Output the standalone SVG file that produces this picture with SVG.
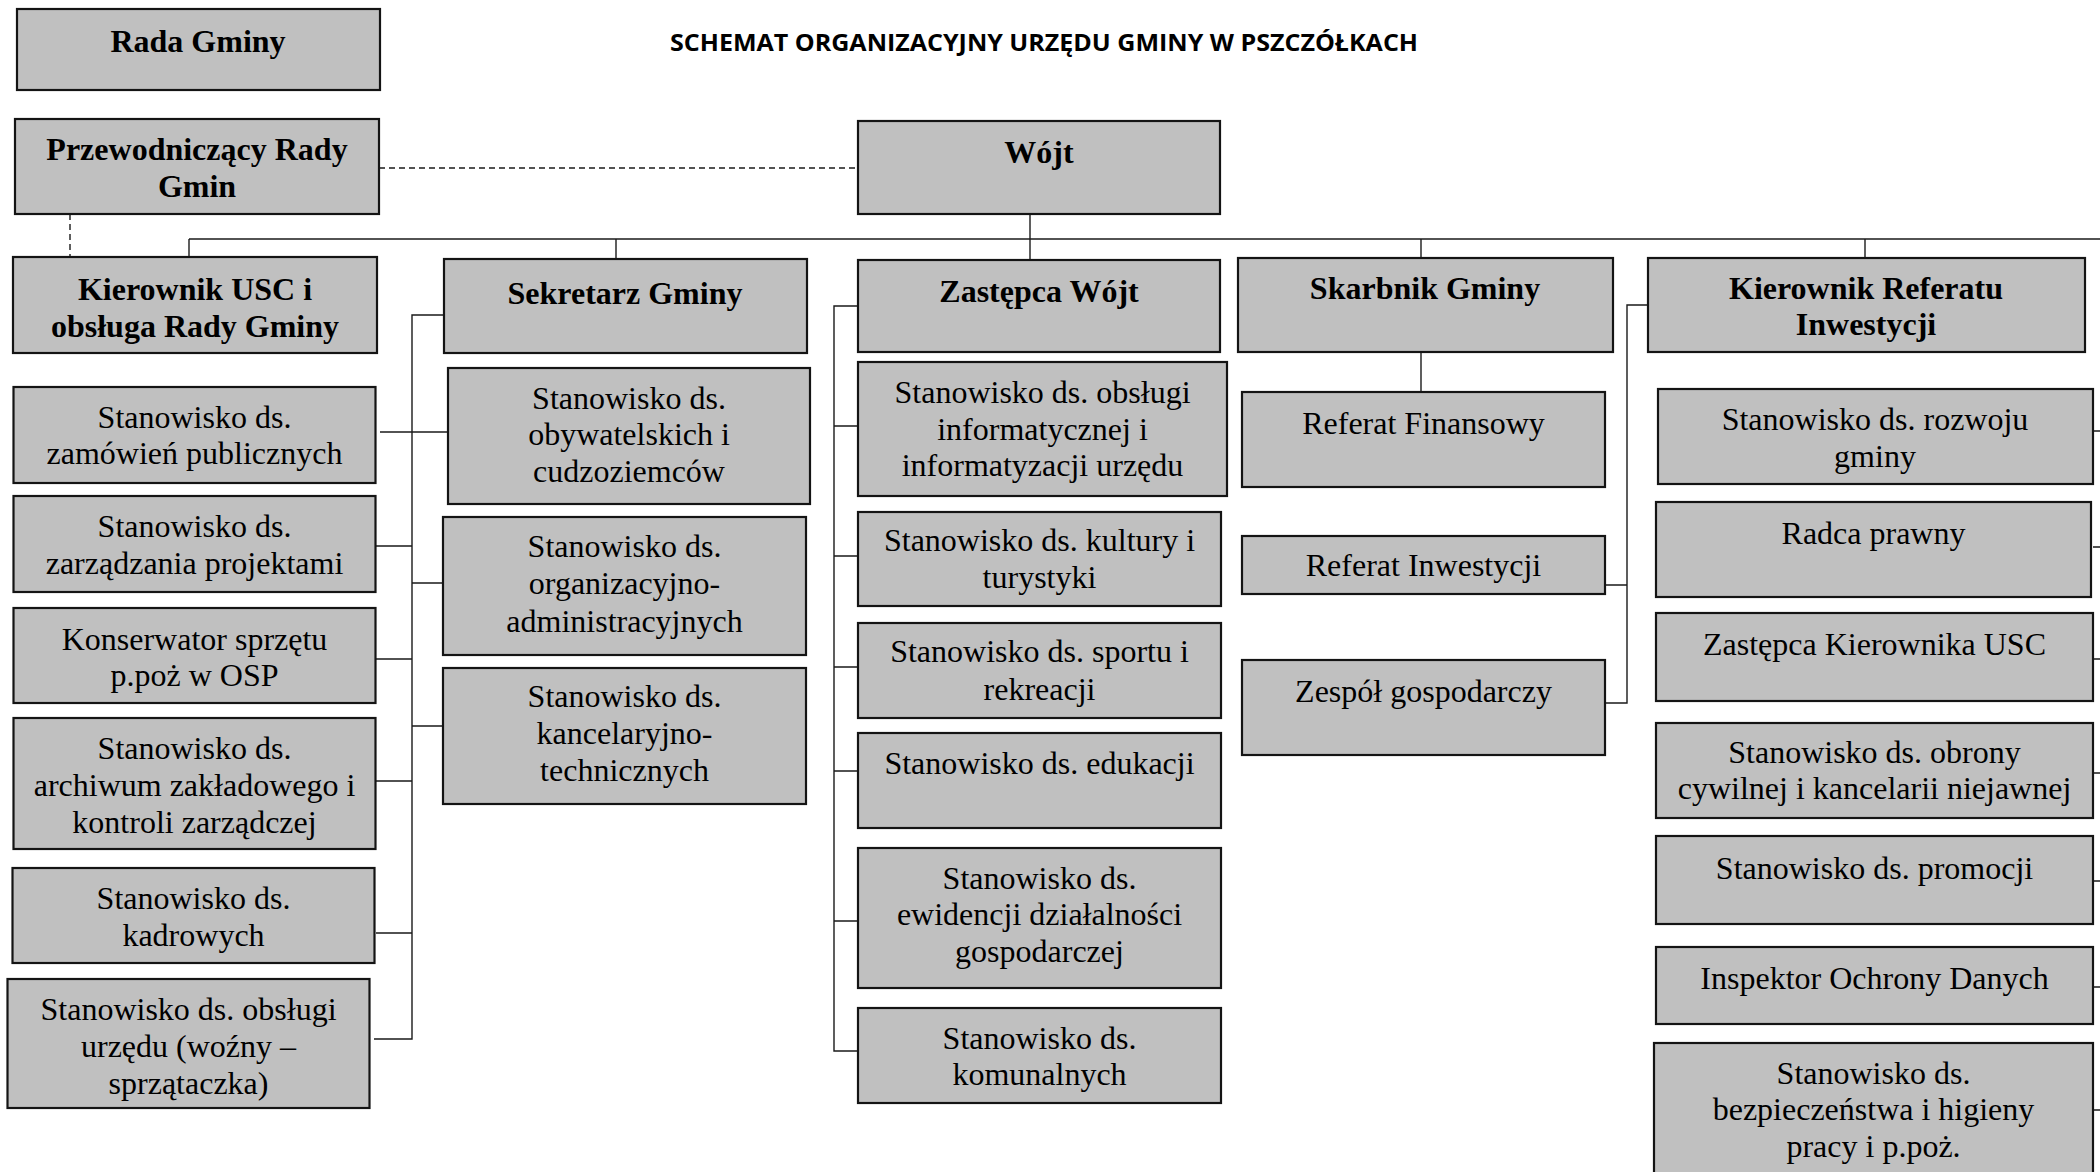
<svg xmlns="http://www.w3.org/2000/svg" width="2100" height="1172" viewBox="0 0 2100 1172">
<style>
.box{fill:#c0c0c0;stroke:#141414;stroke-width:2.2}
.t{font-family:"Liberation Serif","Times New Roman",serif;font-size:32px;fill:#000;text-anchor:middle;transform:translate(0px,2px)}
.b{font-weight:bold}
.ln{fill:none;stroke:#1a1a1a;stroke-width:1.4}
.ds{fill:none;stroke:#1a1a1a;stroke-width:1.4;stroke-dasharray:6 4}
.title{font-family:"Open Sans","Liberation Sans",sans-serif;font-weight:bold;font-size:24px;fill:#000}
</style>
<rect width="2100" height="1172" fill="#fff"/>
<text class="title" x="670" y="51" textLength="748" lengthAdjust="spacingAndGlyphs">SCHEMAT ORGANIZACYJNY URZĘDU GMINY W PSZCZÓŁKACH</text>

<g id="connectors">
<path class="ds" d="M379 168H858"/>
<path class="ds" d="M70 214V257"/>
<path class="ln" d="M189 239H2100"/>
<path class="ln" d="M189 239V257"/>
<path class="ln" d="M616 239V259"/>
<path class="ln" d="M1030 214V260"/>
<path class="ln" d="M1421 239V258"/>
<path class="ln" d="M1865 239V258"/>
<path class="ln" d="M444 315H412V1039H374"/>
<path class="ln" d="M380 432H448"/>
<path class="ln" d="M376 546H412M376 659H412M376 781H412M376 933H412"/>
<path class="ln" d="M412 583H443M412 726H443"/>
<path class="ln" d="M858 306H834V1051H858"/>
<path class="ln" d="M834 426H858M834 556H858M834 667H858M834 771H858M834 921H858"/>
<path class="ln" d="M1421 352V392"/>
<path class="ln" d="M1648 305H1627V703H1605M1605 585H1627"/>
<path class="ln" d="M2093 431H2100M2093 547H2100M2093 659H2100M2093 773H2100M2093 881H2100M2093 987H2100M2093 1110H2100"/>
</g>

<g id="rada"><rect class="box" x="17" y="9" width="363" height="81"/><text class="t b" x="198" y="50">Rada Gminy</text></g>
<g id="przewodniczacy"><rect class="box" x="15" y="119" width="364" height="95"/><text class="t b" x="197" y="158">Przewodniczący Rady</text><text class="t b" x="197" y="195">Gmin</text></g>
<g id="wojt"><rect class="box" x="858" y="121" width="362" height="93"/><text class="t b" x="1039" y="161">Wójt</text></g>
<g id="kierownik-usc"><rect class="box" x="13" y="257" width="364" height="96"/><text class="t b" x="195" y="298">Kierownik USC i</text><text class="t b" x="195" y="335">obsługa Rady Gminy</text></g>
<g id="sekretarz"><rect class="box" x="444" y="259" width="363" height="94"/><text class="t b" x="625" y="302">Sekretarz Gminy</text></g>
<g id="zastepca"><rect class="box" x="858" y="260" width="362" height="92"/><text class="t b" x="1039" y="300">Zastępca Wójt</text></g>
<g id="skarbnik"><rect class="box" x="1238" y="258" width="375" height="94"/><text class="t b" x="1425" y="297">Skarbnik Gminy</text></g>
<g id="kierownik-referatu"><rect class="box" x="1648" y="258" width="437" height="94"/><text class="t b" x="1866" y="297">Kierownik Referatu</text><text class="t b" x="1866" y="333">Inwestycji</text></g>

<g id="zamowien"><rect class="box" x="13.5" y="387" width="362" height="96"/><text class="t" x="194.5" y="426">Stanowisko ds.</text><text class="t" x="194.5" y="462">zamówień publicznych</text></g>
<g id="projekty"><rect class="box" x="13.5" y="496" width="362" height="96"/><text class="t" x="194.5" y="535">Stanowisko ds.</text><text class="t" x="194.5" y="572">zarządzania projektami</text></g>
<g id="konserwator"><rect class="box" x="13.5" y="608" width="362" height="95"/><text class="t" x="194.5" y="648">Konserwator sprzętu</text><text class="t" x="194.5" y="684">p.poż w OSP</text></g>
<g id="archiwum"><rect class="box" x="13.5" y="718" width="362" height="131"/><text class="t" x="194.5" y="757">Stanowisko ds.</text><text class="t" x="194.5" y="794">archiwum zakładowego i</text><text class="t" x="194.5" y="831">kontroli zarządczej</text></g>
<g id="kadrowych"><rect class="box" x="12.5" y="868" width="362" height="95"/><text class="t" x="193.5" y="907">Stanowisko ds.</text><text class="t" x="193.5" y="944">kadrowych</text></g>
<g id="obsluga-urzedu"><rect class="box" x="7.5" y="979" width="362" height="129"/><text class="t" x="188.5" y="1018">Stanowisko ds. obsługi</text><text class="t" x="188.5" y="1055">urzędu (woźny –</text><text class="t" x="188.5" y="1092">sprzątaczka)</text></g>

<g id="obywatelskich"><rect class="box" x="448" y="368" width="362" height="136"/><text class="t" x="629" y="407">Stanowisko ds.</text><text class="t" x="629" y="443">obywatelskich i</text><text class="t" x="629" y="480">cudzoziemców</text></g>
<g id="organizacyjno"><rect class="box" x="443" y="517" width="363" height="138"/><text class="t" x="624.5" y="555">Stanowisko ds.</text><text class="t" x="624.5" y="592">organizacyjno-</text><text class="t" x="624.5" y="630">administracyjnych</text></g>
<g id="kancelaryjno"><rect class="box" x="443" y="668" width="363" height="136"/><text class="t" x="624.5" y="705">Stanowisko ds.</text><text class="t" x="624.5" y="742">kancelaryjno-</text><text class="t" x="624.5" y="779">technicznych</text></g>

<g id="informatyka"><rect class="box" x="858" y="362" width="369" height="134"/><text class="t" x="1042.5" y="401">Stanowisko ds. obsługi</text><text class="t" x="1042.5" y="438">informatycznej i</text><text class="t" x="1042.5" y="474">informatyzacji urzędu</text></g>
<g id="kultura"><rect class="box" x="858" y="512" width="363" height="94"/><text class="t" x="1039.5" y="549">Stanowisko ds. kultury i</text><text class="t" x="1039.5" y="586">turystyki</text></g>
<g id="sport"><rect class="box" x="858" y="623" width="363" height="95"/><text class="t" x="1039.5" y="660">Stanowisko ds. sportu i</text><text class="t" x="1039.5" y="698">rekreacji</text></g>
<g id="edukacja"><rect class="box" x="858" y="733" width="363" height="95"/><text class="t" x="1039.5" y="772">Stanowisko ds. edukacji</text></g>
<g id="ewidencja"><rect class="box" x="858" y="848" width="363" height="140"/><text class="t" x="1039.5" y="887">Stanowisko ds.</text><text class="t" x="1039.5" y="923">ewidencji działalności</text><text class="t" x="1039.5" y="960">gospodarczej</text></g>
<g id="komunalnych"><rect class="box" x="858" y="1008" width="363" height="95"/><text class="t" x="1039.5" y="1047">Stanowisko ds.</text><text class="t" x="1039.5" y="1083">komunalnych</text></g>

<g id="referat-finansowy"><rect class="box" x="1242" y="392" width="363" height="95"/><text class="t" x="1423.5" y="432">Referat Finansowy</text></g>
<g id="referat-inwestycji"><rect class="box" x="1242" y="536" width="363" height="58"/><text class="t" x="1423.5" y="574">Referat Inwestycji</text></g>
<g id="zespol"><rect class="box" x="1242" y="660" width="363" height="95"/><text class="t" x="1423.5" y="700">Zespół gospodarczy</text></g>

<g id="rozwoj"><rect class="box" x="1658" y="389" width="435" height="95"/><text class="t" x="1875" y="428">Stanowisko ds. rozwoju</text><text class="t" x="1875" y="465">gminy</text></g>
<g id="radca"><rect class="box" x="1656" y="502" width="435" height="95"/><text class="t" x="1873.5" y="542">Radca prawny</text></g>
<g id="zastepca-usc"><rect class="box" x="1656" y="613" width="437" height="88"/><text class="t" x="1874.5" y="653">Zastępca Kierownika USC</text></g>
<g id="obrona"><rect class="box" x="1656" y="723" width="437" height="95"/><text class="t" x="1874.5" y="761">Stanowisko ds. obrony</text><text class="t" x="1874.5" y="797">cywilnej i kancelarii niejawnej</text></g>
<g id="promocja"><rect class="box" x="1656" y="836" width="437" height="88"/><text class="t" x="1874.5" y="877">Stanowisko ds. promocji</text></g>
<g id="iod"><rect class="box" x="1656" y="947" width="437" height="77"/><text class="t" x="1874.5" y="987">Inspektor Ochrony Danych</text></g>
<g id="bhp"><rect class="box" x="1654" y="1043" width="439" height="145"/><text class="t" x="1873.5" y="1082">Stanowisko ds.</text><text class="t" x="1873.5" y="1118">bezpieczeństwa i higieny</text><text class="t" x="1873.5" y="1155">pracy i p.poż.</text></g>
</svg>
